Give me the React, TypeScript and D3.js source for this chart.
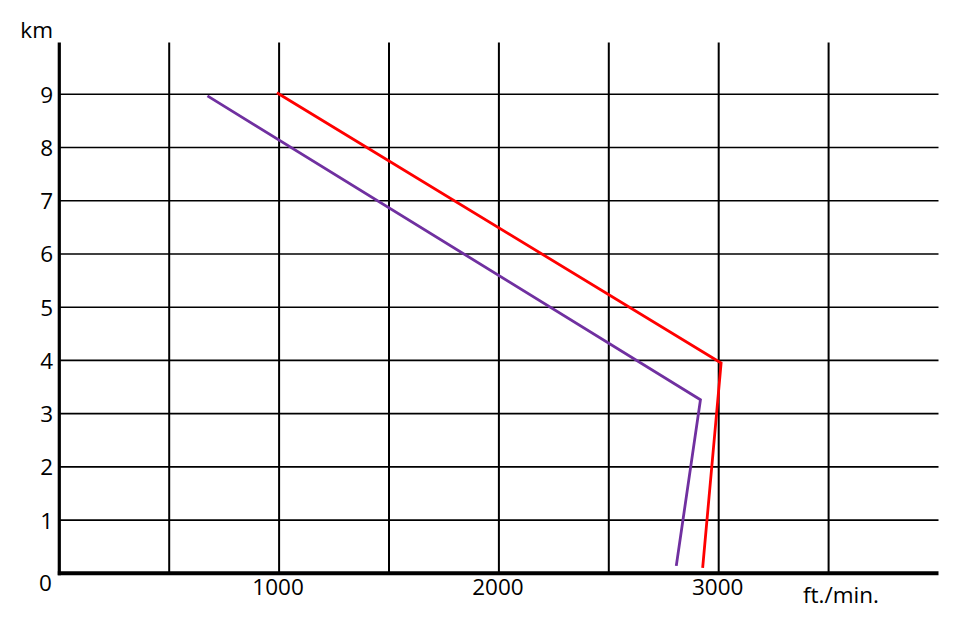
import * as d3 from 'd3';

const W = 966;
const H = 631;

// x in ft./min., y in km
const xGrid = [500, 1000, 1500, 2000, 2500, 3000, 3500];
const xLabels = [1000, 2000, 3000];
const yGrid = [1, 2, 3, 4, 5, 6, 7, 8, 9];

const redX = [990, 3011, 2927];
const redY = [9.03, 3.95, 0.1];
const purpleX = [674, 2917, 2807];
const purpleY = [8.97, 3.26, 0.14];

const FONT = '"Open Sans", sans-serif';
const FS = 22.5;

const App = () => {
  const x = d3.scaleLinear().domain([0, 4000]).range([59.3, 938.5]);
  const y = d3.scaleLinear().domain([0, 9]).range([573.3, 94.3]);
  const top = 42.5;

  // polyline through the series points
  const path = (xs: number[], ys: number[]) =>
    d3
      .line<number>()
      .x(i => x(xs[i]))
      .y(i => y(ys[i]))(xs.map((_, i) => i)) || '';

  return (
    <div style={{ position: 'fixed', left: 0, top: 0 }}>
      <svg width={W} height={H} style={{ display: 'block', background: '#fff' }} fontFamily={FONT}>
        {/* horizontal grid */}
        {yGrid.map(v => (
          <line key={'h' + v} x1={x(0)} x2={x(4000)} y1={y(v)} y2={y(v)} stroke="#000" strokeWidth={1.6} />
        ))}
        {/* vertical grid */}
        {xGrid.map(v => (
          <line key={'v' + v} x1={x(v)} x2={x(v)} y1={top} y2={y(0)} stroke="#000" strokeWidth={2} />
        ))}
        {/* axes */}
        <line x1={x(0)} x2={x(0)} y1={top} y2={y(0) + 2} stroke="#000" strokeWidth={3.2} />
        <line x1={x(0) - 1.5} x2={x(4000)} y1={y(0)} y2={y(0)} stroke="#000" strokeWidth={4} />

        {/* series */}
        <path d={path(purpleX, purpleY)} fill="none" stroke="#7030A0" strokeWidth={2.8} />
        <path d={path(redX, redY)} fill="none" stroke="#FF0000" strokeWidth={2.8} />

        {/* y labels */}
        {yGrid.map(v => (
          <text key={'yl' + v} x={53} y={y(v) + 8.5} textAnchor="end" fontSize={FS} fill="#000">
            {v}
          </text>
        ))}
        <text x={45.5} y={591} textAnchor="middle" fontSize={FS} fill="#000">
          0
        </text>
        <text x={53} y={38} textAnchor="end" fontSize={FS} fill="#000">
          km
        </text>

        {/* x labels */}
        {xLabels.map(v => (
          <text key={'xl' + v} x={x(v) - 1} y={595} textAnchor="middle" fontSize={FS} fill="#000">
            {v}
          </text>
        ))}
        <text x={803} y={603} fontSize={FS} fill="#000">
          ft./min.
        </text>
      </svg>
    </div>
  );
};

export default App;
